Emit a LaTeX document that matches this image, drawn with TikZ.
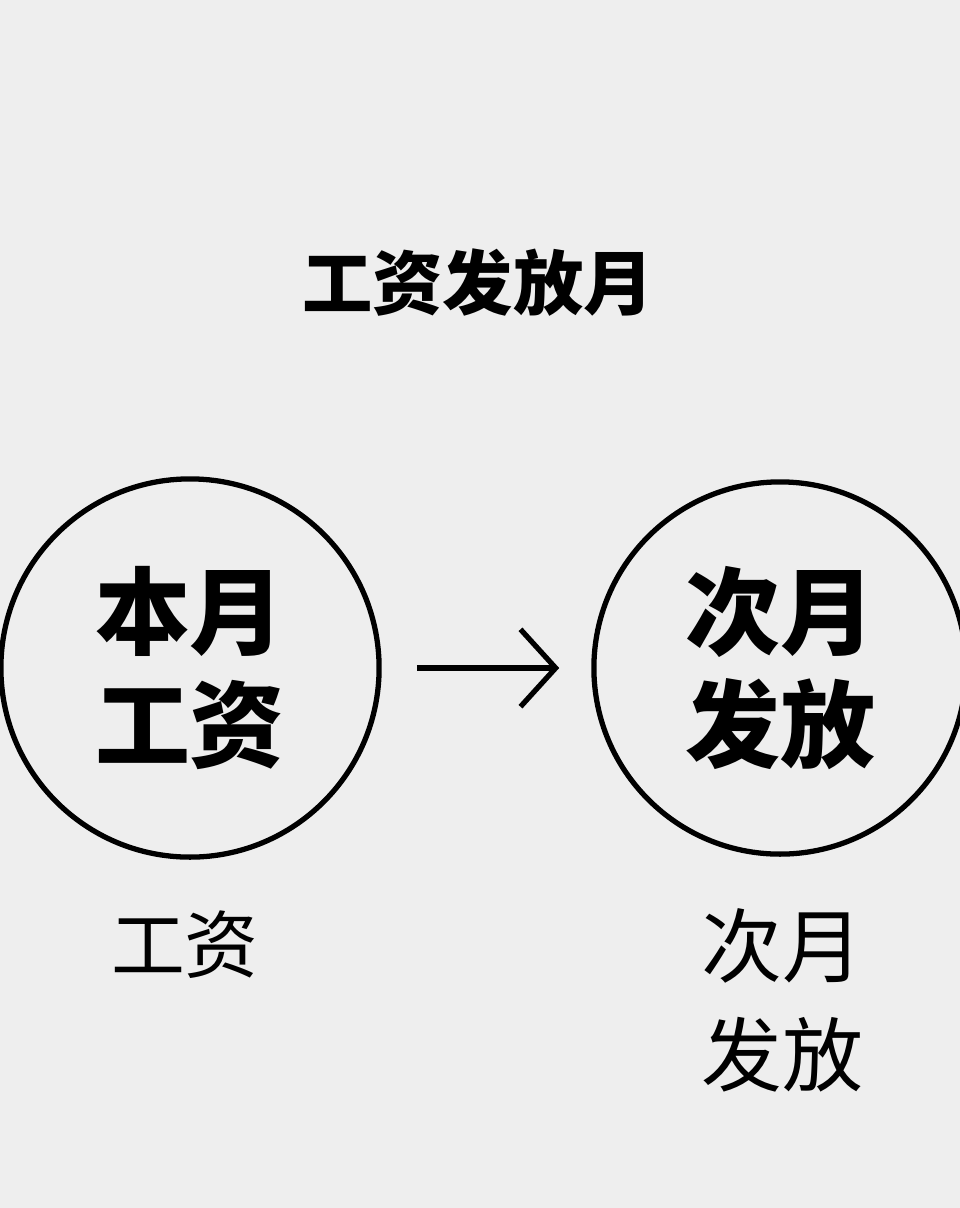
\documentclass[tikz,border=0pt]{standalone}
\usepackage{fontspec}
\newfontfamily\cjk{Noto Sans CJK SC}
\newcommand\cjkbold{\cjk\bfseries}
\usetikzlibrary{arrows.meta}
\tikzset{
	ring/.style={circle, draw=black, line width=1.5pt, minimum size=3.78cm, inner sep=0pt,
			font=\cjkbold\fontsize{27}{32}\selectfont, align=center},
	caption/.style={font=\cjk\fontsize{21}{27}\selectfont, align=center}
}
\begin{document}
\begin{tikzpicture}[x=0.01cm, y=-0.01cm]
            % background and page size
            \fill[gray!13] (0,0) rectangle (960,1208);
            \useasboundingbox (0,0) rectangle (960,1208);

            % title
            \node[font=\cjkbold\fontsize{20}{24}\selectfont] (title) at (478,283) {工资发放月};

            % the two months
            \node[ring] (now) at (190,668) {本月\\工资};
            \node[ring, minimum size=3.72cm] (next) at (780,668) {次月\\发放};
            \draw[line width=1.5pt, -{Straight Barb[length=10pt, width=22pt]}] ([xshift=0.35cm]now.east) -- ([xshift=-0.32cm]next.west);

            % captions
            \node[caption] (capnow) at (185,945) {工资};
            \node[caption, font=\cjk\fontsize{23}{31}\selectfont] (capnext) at (782,1000) {次月\\发放};
        \end{tikzpicture}
\end{document}
